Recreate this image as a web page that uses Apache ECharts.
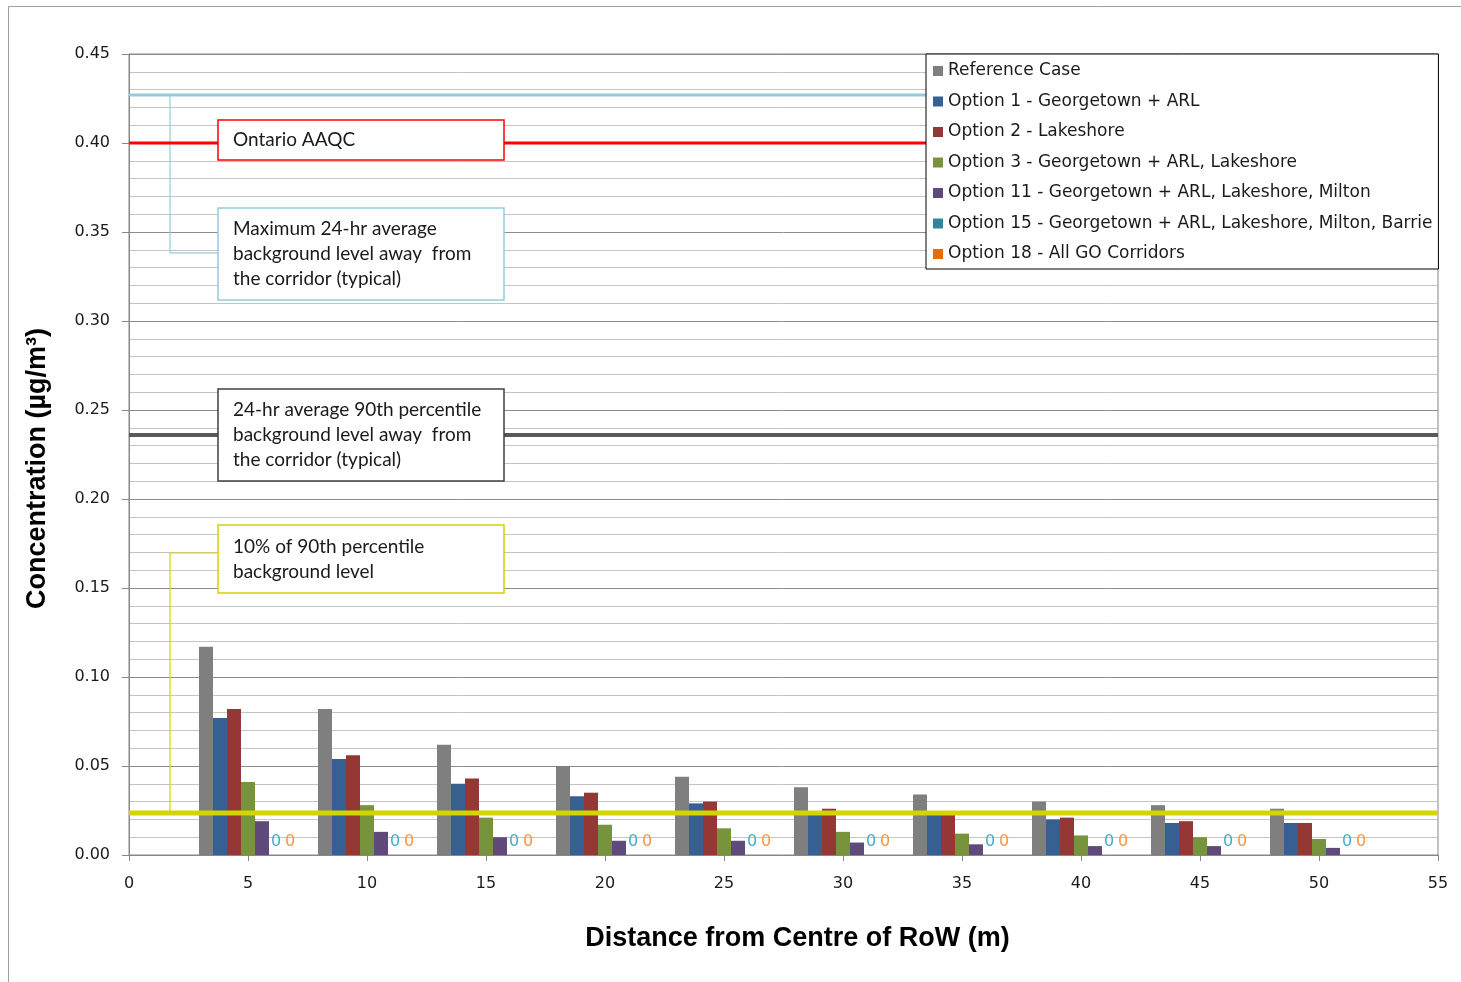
<!DOCTYPE html>
<html>
<head>
<meta charset="utf-8">
<script src="https://cdn.jsdelivr.net/npm/echarts@6/dist/echarts.min.js"></script>
<style>
  html, body { margin: 0; padding: 0; background: #ffffff; }
  #chart { width: 1461px; height: 982px; }
</style>
</head>
<body>
<div id="chart"></div>
<script>
// Distance from the centre of the right-of-way (m)
const distances = [5, 10, 15, 20, 25, 30, 35, 40, 45, 50];

// Concentration (µg/m³) per scenario at each distance
const referenceCase = [0.117, 0.082, 0.062, 0.050, 0.044, 0.038, 0.034, 0.030, 0.028, 0.026];
const option1  = [0.077, 0.054, 0.040, 0.033, 0.029, 0.024, 0.023, 0.020, 0.018, 0.018];
const option2  = [0.082, 0.056, 0.043, 0.035, 0.030, 0.026, 0.024, 0.021, 0.019, 0.018];
const option3  = [0.041, 0.028, 0.021, 0.017, 0.015, 0.013, 0.012, 0.011, 0.010, 0.009];
const option11 = [0.019, 0.013, 0.010, 0.008, 0.008, 0.007, 0.006, 0.005, 0.005, 0.004];
const option15 = [0, 0, 0, 0, 0, 0, 0, 0, 0, 0];
const option18 = [0, 0, 0, 0, 0, 0, 0, 0, 0, 0];

const seriesNames = [
  'Reference Case',
  'Option 1 - Georgetown + ARL',
  'Option 2 - Lakeshore',
  'Option 3 - Georgetown + ARL, Lakeshore',
  'Option 11 - Georgetown + ARL, Lakeshore, Milton',
  'Option 15 - Georgetown + ARL, Lakeshore, Milton, Barrie',
  'Option 18 - All GO Corridors'
];
const seriesValues = [referenceCase, option1, option2, option3, option11, option15, option18];
const seriesColors = ['#7f7f7f', '#376092', '#953735', '#77933c', '#604a7b', '#31859c', '#e46c0a'];
const zeroLabelColors = [null, null, null, null, null, '#4bacc6', '#f79646'];

// Reference levels (µg/m³)
const aaqcLimit = 0.40;
const bgMaximum = 0.427;
const bg90th = 0.236;
const bg90thTenth = 0.0236;

// Axis ticks
const xTicks = { min: 0, max: 55, interval: 5 };
const yTicks = { min: 0, max: 0.45, interval: 0.05 };

const txtFont = 'Lato, "Open Sans", sans-serif';
const axisFont = '"DejaVu Sans", "Open Sans", sans-serif';
const titleFont = '"Liberation Sans", Arial, sans-serif';

const chart = echarts.init(document.getElementById('chart'), null, { renderer: 'canvas' });

const series = seriesNames.map((name, i) => {
  const s = {
    name: name,
    type: 'bar',
    barWidth: 14,
    barGap: '0%',
    itemStyle: { color: seriesColors[i] },
    data: distances.map((d, k) => [d, seriesValues[i][k]]),
    z: 3
  };
  if (zeroLabelColors[i]) {
    s.label = {
      show: true,
      position: 'top',
      distance: 5,
      formatter: p => String(p.value[1]),
      color: zeroLabelColors[i],
      fontFamily: axisFont,
      fontSize: 16
    };
  }
  return s;
});

// Horizontal reference levels drawn across the full x range
function levelLine(name, value, color, width) {
  return {
    name: name,
    type: 'line',
    data: [[xTicks.min, value], [xTicks.max, value]],
    showSymbol: false,
    symbol: 'none',
    silent: true,
    lineStyle: { color: color, width: width, type: 'solid' },
    z: 4
  };
}
series.push(levelLine('Maximum background', bgMaximum, '#93cddd', 3));
series.push(levelLine('Ontario AAQC', aaqcLimit, '#ff0000', 3));
series.push(levelLine('90th percentile background', bg90th, '#595959', 4));
series.push(levelLine('10% of 90th percentile', bg90thTenth, '#d4d400', 5));

const option = {
  animation: false,
  backgroundColor: '#ffffff',
  grid: {
    left: 129, right: 23, top: 54, bottom: 127,
    show: true, borderColor: '#878787', borderWidth: 1, backgroundColor: 'transparent'
  },
  legend: {
    data: seriesNames,
    orient: 'vertical',
    left: 926,
    top: 54,
    backgroundColor: '#ffffff',
    borderColor: '#000000',
    borderWidth: 1,
    borderRadius: 0,
    padding: [7, 6, 5, 7],
    itemWidth: 10,
    itemHeight: 10,
    itemGap: 10.5,
    icon: 'rect',
    selectedMode: false,
    textStyle: { fontFamily: axisFont, fontSize: 17, color: '#1a1a1a', lineHeight: 20 },
    z: 20
  },
  xAxis: {
    type: 'value',
    min: xTicks.min, max: xTicks.max, interval: xTicks.interval,
    name: 'Distance from Centre of RoW (m)',
    nameLocation: 'middle',
    nameGap: 70,
    nameTextStyle: { fontFamily: titleFont, fontWeight: 'bold', fontSize: 27, color: '#000', padding: [0, 0, 0, 28] },
    axisLine: { show: true, lineStyle: { color: '#878787', width: 1 } },
    axisTick: { show: true, length: 6, inside: false, lineStyle: { color: '#878787' } },
    axisLabel: { margin: 21, fontFamily: axisFont, fontSize: 16, color: '#1a1a1a' },
    splitLine: { show: false }
  },
  yAxis: {
    type: 'value',
    min: yTicks.min, max: yTicks.max, interval: yTicks.interval,
    name: 'Concentration (µg/m³)',
    nameLocation: 'middle',
    nameGap: 78,
    nameTextStyle: { fontFamily: titleFont, fontWeight: 'bold', fontSize: 27, color: '#000', padding: [0, 28, 0, 0] },
    axisLine: { show: true, lineStyle: { color: '#878787', width: 1 } },
    axisTick: { show: true, length: 7, inside: false, lineStyle: { color: '#878787' } },
    axisLabel: { margin: 19, fontFamily: axisFont, fontSize: 16, color: '#1a1a1a', formatter: v => v.toFixed(2) },
    splitLine: { show: true, lineStyle: { color: '#8c8c8c', width: 1 } },
    minorTick: { show: false, splitNumber: 5 },
    minorSplitLine: { show: true, lineStyle: { color: '#c4c4c4', width: 1 } }
  },
  series: series
};

chart.setOption(option);

// Annotation boxes with their connectors, placed against the plot area
const yPx = v => chart.convertToPixel({ yAxisIndex: 0 }, v);
const plotLeft = chart.convertToPixel({ xAxisIndex: 0 }, xTicks.min);
const boxLeft = plotLeft + 89;
const boxWidth = 286;
const connectorX = plotLeft + 41;

function noteBox(top, height, stroke, lines) {
  return {
    type: 'group',
    z: 15,
    children: [
      {
        type: 'rect',
        shape: { x: boxLeft, y: top, width: boxWidth, height: height },
        style: { fill: '#ffffff', stroke: stroke, lineWidth: 1.5 },
        z: 15
      },
      {
        type: 'text',
        x: boxLeft + 15,
        y: top + height / 2,
        style: {
          text: lines.join('\n'),
          font: '19px ' + txtFont,
          fill: '#1a1a1a',
          lineHeight: 25,
          verticalAlign: 'middle',
          align: 'left'
        },
        z: 16
      }
    ]
  };
}

const aaqcY = yPx(aaqcLimit);
const bgMaxY = yPx(bgMaximum);
const bg90Y = yPx(bg90th);
const tenthY = yPx(bg90thTenth);

chart.setOption({
  graphic: [
    // page frame
    {
      type: 'rect',
      shape: { x: 8.5, y: 6.5, width: 1470, height: 990 },
      style: { fill: null, stroke: '#a0a0a0', lineWidth: 1 },
      z: 0
    },
    // connector from the maximum background line to its note
    {
      type: 'polyline',
      shape: { points: [[connectorX, bgMaxY], [connectorX, bgMaxY + 158], [boxLeft, bgMaxY + 158]] },
      style: { stroke: '#93cddd', lineWidth: 1.2, fill: null },
      z: 1
    },
    // connector from the 10% line to its note
    {
      type: 'polyline',
      shape: { points: [[connectorX, tenthY], [connectorX, tenthY - 260], [boxLeft, tenthY - 260]] },
      style: { stroke: '#d4d400', lineWidth: 1.2, fill: null },
      z: 1
    },
    noteBox(aaqcY - 23, 40, '#ff0000', ['Ontario AAQC']),
    noteBox(bgMaxY + 113, 92, '#93cddd', ['Maximum 24-hr average', 'background level away  from', 'the corridor (typical)']),
    noteBox(bg90Y - 46, 92, '#404040', ['24-hr average 90th percentile', 'background level away  from', 'the corridor (typical)']),
    noteBox(tenthY - 288, 68, '#d4d400', ['10% of 90th percentile', 'background level'])
  ]
});
</script>
</body>
</html>
